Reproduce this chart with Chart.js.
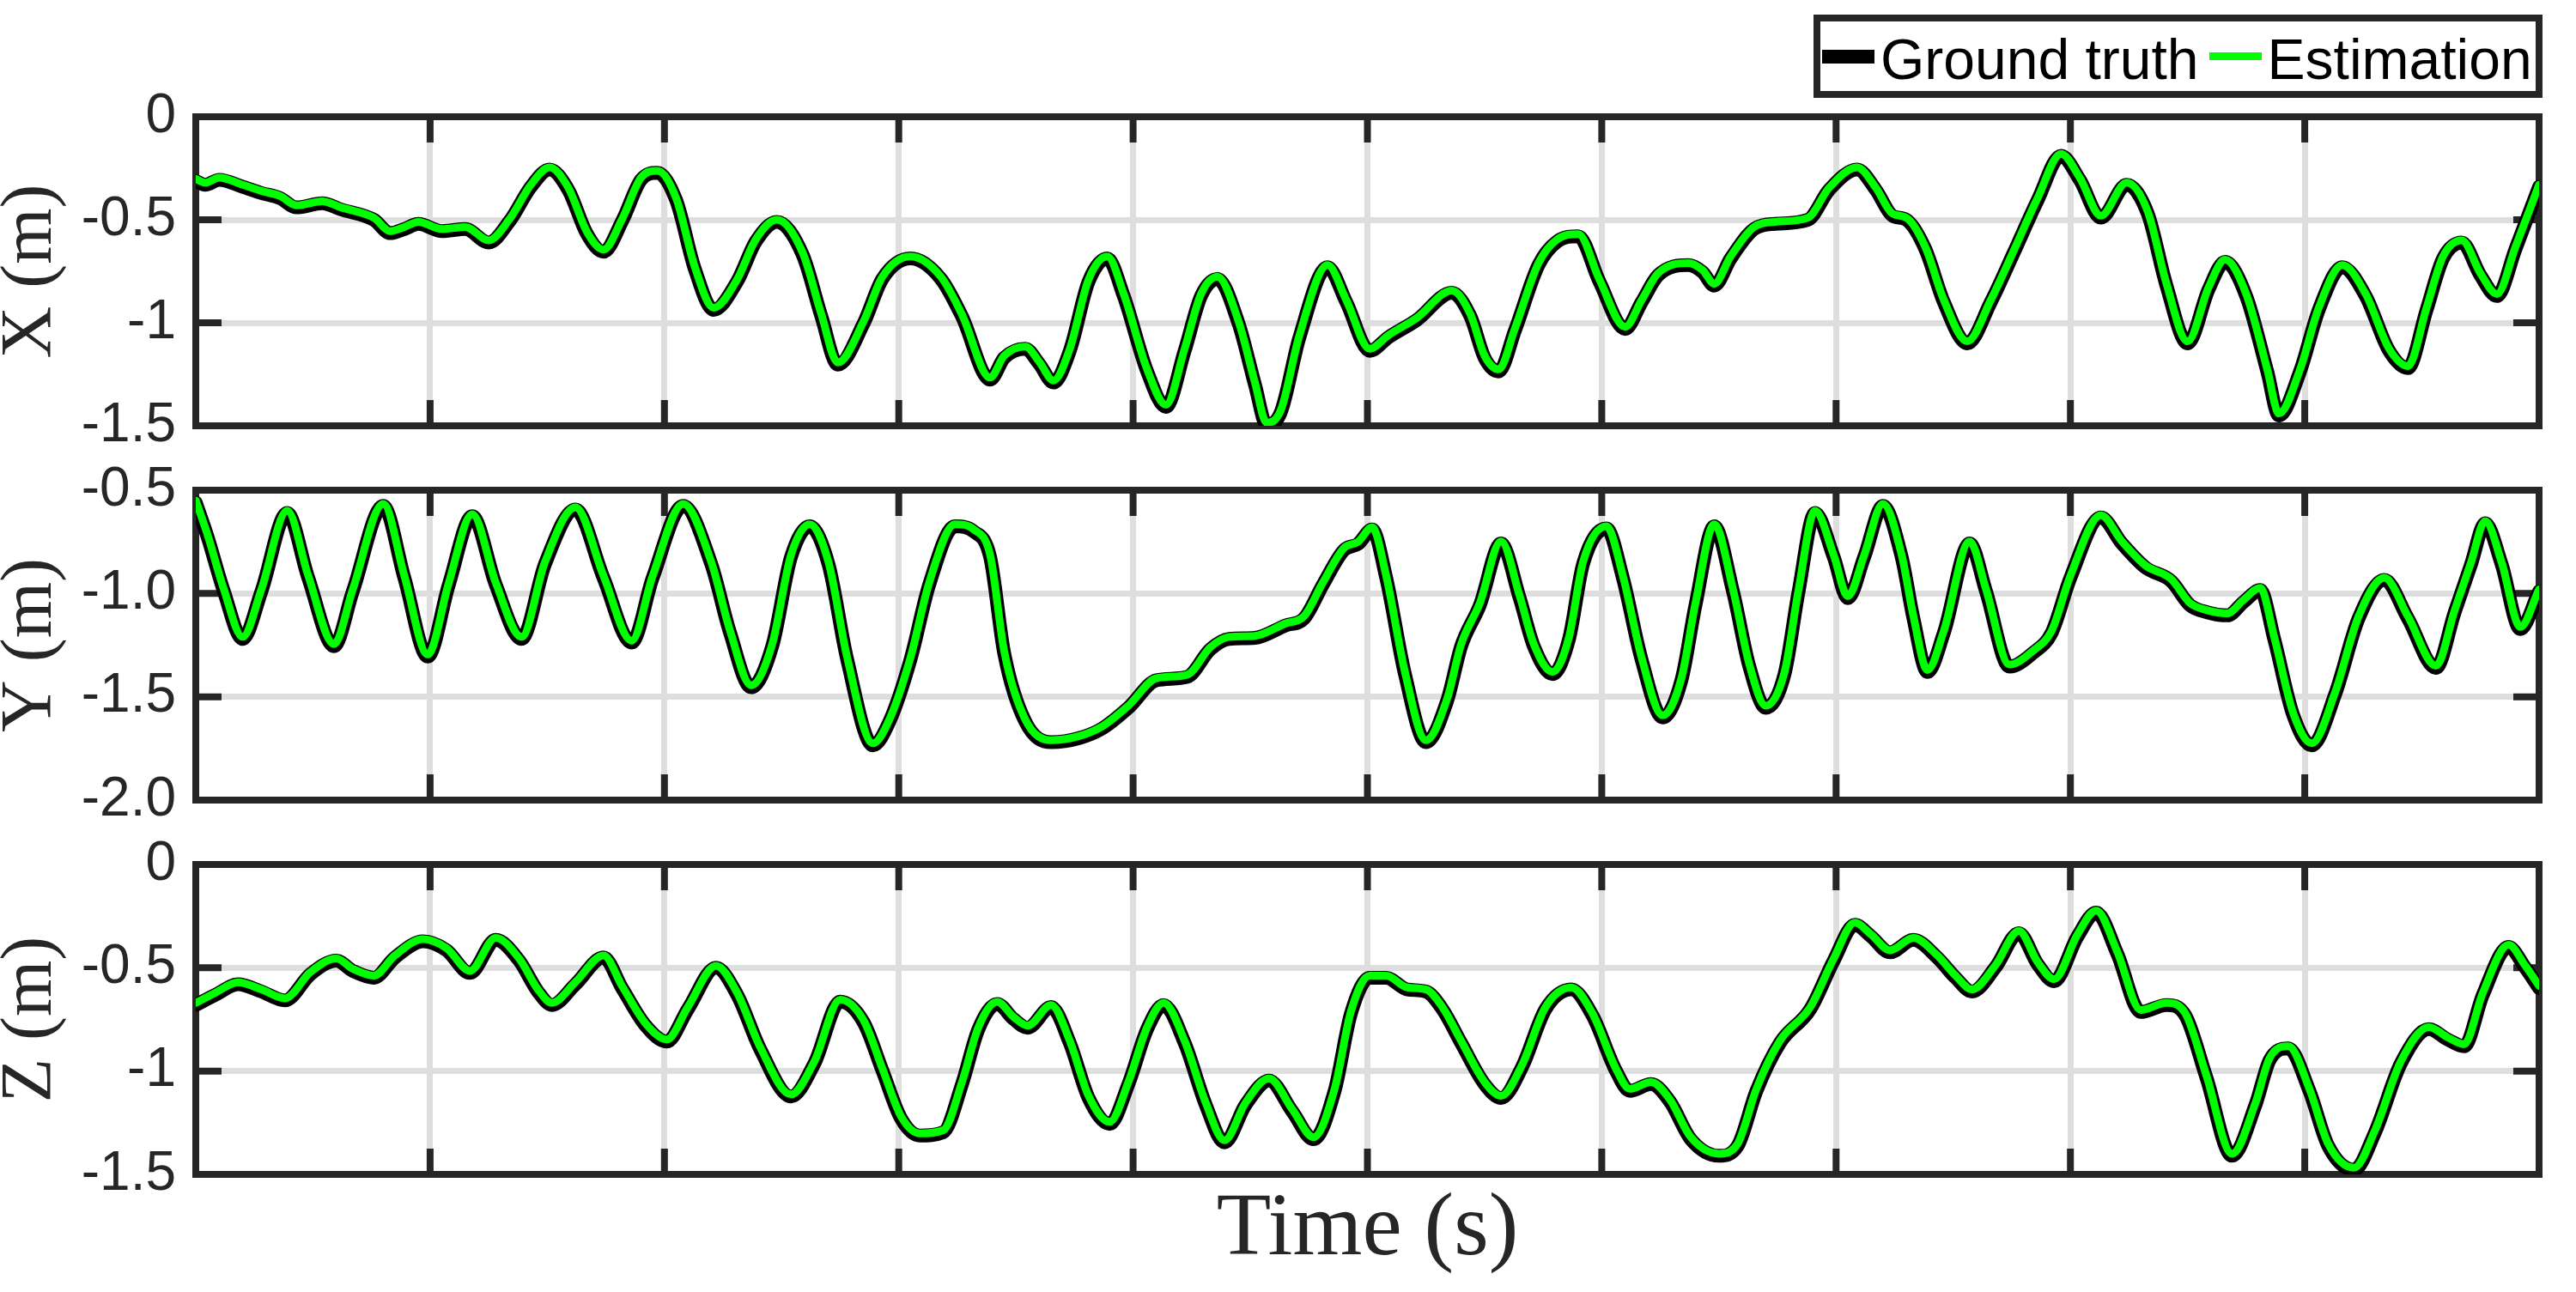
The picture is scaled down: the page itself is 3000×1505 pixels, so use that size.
<!DOCTYPE html>
<html>
<head>
<meta charset="utf-8">
<title>Ground truth vs estimation</title>
<script src="https://cdn.jsdelivr.net/npm/chart.js@4.4.1/dist/chart.umd.min.js"></script>
<style>
  html, body { margin: 0; padding: 0; background: #fff; }
  body { width: 3000px; height: 1505px; position: relative; overflow: hidden; }
  canvas { position: absolute; left: 0; }
  #legend {
    position: absolute; left: 2112px; top: 17px; width: 849px; height: 97px;
    box-sizing: border-box; border: 8px solid #262626; background: #fff;
    display: flex; align-items: center; z-index: 2;
    font-family: 'Liberation Sans', Arial, sans-serif; font-size: 66px; color: #000;
  }
  #legend .item { display: flex; align-items: center; margin-left: 12px; }
  #legend .item:first-child { margin-left: 2px; }
  #legend .swatch { display: inline-block; width: 61px; margin-right: 7px; }
  #legend .text { position: relative; top: 3px; white-space: nowrap; }
</style>
</head>
<body>
<div id="legend"></div>
<canvas id="chartX" width="3000" height="540" style="top:0px;width:3000px;height:540px"></canvas>
<canvas id="chartY" width="3000" height="435" style="top:540px;width:3000px;height:435px"></canvas>
<canvas id="chartZ" width="3000" height="530" style="top:975px;width:3000px;height:530px"></canvas>
<script>
// legend labels
const seriesLabels = ['Ground truth', 'Estimation'];

// shared time axis (grid every 10 s)
const timeTicks = [0, 10, 20, 30, 40, 50, 60, 70, 80, 90, 100];

// tick values / labels for each panel
const tickValuesX = [0, -0.5, -1, -1.5];
const tickLabelsX = ['0', '-0.5', '-1', '-1.5'];
const tickValuesY = [-0.5, -1, -1.5, -2];
const tickLabelsY = ['-0.5', '-1.0', '-1.5', '-2.0'];
const tickValuesZ = [0, -0.5, -1, -1.5];
const tickLabelsZ = ['0', '-0.5', '-1', '-1.5'];

// X (m)
const timeX = [0, 0.4, 1.0, 2.0, 2.8, 3.6, 4.3, 5.4, 6.2, 7.6,
  8.3, 8.9, 9.5, 10.5, 11.5, 12.5, 13.4, 14.3, 15.1, 15.9,
  16.7, 17.4, 18.2, 19.0, 19.7, 20.5, 21.3, 22.1, 23.1, 23.9,
  24.8, 25.9, 26.7, 27.4, 28.5, 29.3, 30.5, 31.8, 32.7, 33.9,
  34.5, 35.4, 36.0, 36.6, 37.3, 38.1, 38.9, 39.6, 40.6, 41.4,
  42.2, 42.9, 43.6, 44.5, 45.2, 45.7, 46.3, 47.1, 48.3, 49.1,
  50.1, 50.9, 52.1, 53.6, 54.4, 55.0, 55.6, 56.3, 57.3, 58.1,
  59.0, 59.9, 61.0, 61.7, 62.4, 63.7, 64.3, 64.8, 65.5, 66.5,
  67.4, 68.8, 69.7, 70.9, 71.7, 72.4, 73.0, 73.8, 74.6, 75.6,
  76.6, 77.6, 78.6, 79.6, 80.4, 81.3, 82.4, 83.3, 84.1, 85.0,
  85.9, 86.6, 87.5, 88.4, 88.9, 89.8, 90.6, 91.6, 92.6, 93.6,
  94.4, 95.2, 95.9, 96.7, 97.5, 98.2, 99.0, 100];
const groundTruthX = [-0.312, -0.33, -0.306, -0.34, -0.37, -0.395, -0.44, -0.42, -0.45, -0.50,
  -0.565, -0.545, -0.52, -0.555, -0.545, -0.61, -0.505, -0.34, -0.256, -0.355,
  -0.57, -0.655, -0.505, -0.306, -0.272, -0.405, -0.74, -0.937, -0.80, -0.605,
  -0.51, -0.67, -0.97, -1.203, -1.003, -0.787, -0.688, -0.787, -0.97, -1.276,
  -1.17, -1.126, -1.20, -1.29, -1.136, -0.80, -0.688, -0.87, -1.236, -1.408,
  -1.136, -0.87, -0.787, -1.003, -1.30, -1.495, -1.435, -1.07, -0.73, -0.90,
  -1.136, -1.07, -0.987, -0.854, -0.97, -1.17, -1.236, -1.036, -0.72, -0.605,
  -0.58, -0.80, -1.03, -0.90, -0.77, -0.72, -0.754, -0.82, -0.688, -0.545,
  -0.52, -0.50, -0.355, -0.256, -0.355, -0.48, -0.50, -0.64, -0.90, -1.10,
  -0.90, -0.655, -0.405, -0.19, -0.306, -0.49, -0.33, -0.47, -0.82, -1.10,
  -0.837, -0.704, -0.87, -1.236, -1.45, -1.236, -0.937, -0.73, -0.87, -1.136,
  -1.22, -0.937, -0.688, -0.61, -0.77, -0.87, -0.64, -0.34];
const estimationX = [-0.302, -0.32, -0.296, -0.33, -0.36, -0.385, -0.43, -0.41, -0.44, -0.49,
  -0.555, -0.535, -0.51, -0.545, -0.535, -0.60, -0.495, -0.33, -0.246, -0.345,
  -0.56, -0.645, -0.495, -0.296, -0.262, -0.395, -0.73, -0.927, -0.79, -0.595,
  -0.50, -0.66, -0.96, -1.193, -0.993, -0.777, -0.678, -0.777, -0.96, -1.266,
  -1.16, -1.116, -1.19, -1.28, -1.126, -0.79, -0.678, -0.86, -1.226, -1.398,
  -1.126, -0.86, -0.777, -0.993, -1.29, -1.485, -1.425, -1.06, -0.72, -0.89,
  -1.126, -1.06, -0.977, -0.844, -0.96, -1.16, -1.226, -1.026, -0.71, -0.595,
  -0.57, -0.79, -1.02, -0.89, -0.76, -0.71, -0.744, -0.81, -0.678, -0.535,
  -0.51, -0.49, -0.345, -0.246, -0.345, -0.47, -0.49, -0.63, -0.89, -1.09,
  -0.89, -0.645, -0.395, -0.18, -0.296, -0.48, -0.32, -0.46, -0.81, -1.09,
  -0.827, -0.694, -0.86, -1.226, -1.44, -1.226, -0.927, -0.72, -0.86, -1.126,
  -1.21, -0.927, -0.678, -0.60, -0.76, -0.86, -0.63, -0.33];

// Y (m)
const timeY = [0, 0.5, 1.2, 2.0, 2.8, 3.9, 4.8, 5.9, 6.7, 8.0,
  8.9, 9.9, 10.8, 11.8, 12.8, 13.9, 14.9, 16.2, 17.4, 18.6,
  19.5, 20.8, 22.0, 22.8, 23.7, 24.6, 25.4, 26.2, 27.0, 27.8,
  28.9, 29.6, 30.5, 31.3, 32.4, 33.2, 33.9, 34.5, 35.4, 36.5,
  37.7, 38.7, 39.8, 41.0, 42.3, 43.3, 44.1, 45.2, 46.5, 47.3,
  48.1, 49.0, 49.6, 50.2, 50.8, 51.6, 52.5, 53.4, 54.0, 54.8,
  55.7, 56.5, 57.1, 57.9, 58.6, 59.2, 60.2, 60.9, 61.7, 62.6,
  63.4, 64.0, 64.8, 65.6, 66.3, 67.0, 67.8, 68.4, 69.1, 69.9,
  70.5, 71.2, 72.0, 72.8, 73.3, 73.9, 74.6, 75.7, 76.4, 77.4,
  78.4, 79.2, 80.0, 81.3, 82.2, 83.2, 84.3, 85.1, 85.8, 86.7,
  87.4, 88.1, 88.7, 89.5, 90.3, 91.3, 92.3, 93.4, 94.4, 95.6,
  96.4, 97.1, 97.7, 98.4, 99.2, 100];
const groundTruthY = [-0.56, -0.725, -0.99, -1.22, -0.99, -0.61, -0.924, -1.255, -0.99, -0.576,
  -0.924, -1.305, -0.957, -0.626, -0.957, -1.22, -0.858, -0.593, -0.924, -1.238,
  -0.924, -0.576, -0.858, -1.19, -1.454, -1.255, -0.824, -0.675, -0.858, -1.32,
  -1.735, -1.62, -1.32, -0.957, -0.675, -0.70, -0.824, -1.29, -1.62, -1.72,
  -1.70, -1.652, -1.553, -1.42, -1.404, -1.27, -1.22, -1.215, -1.155, -1.12,
  -0.957, -0.79, -0.76, -0.69, -0.924, -1.39, -1.72, -1.52, -1.255, -1.056,
  -0.758, -1.023, -1.255, -1.39, -1.222, -0.858, -0.685, -0.924, -1.32, -1.60,
  -1.42, -1.056, -0.675, -0.99, -1.354, -1.553, -1.39, -0.99, -0.61, -0.824,
  -1.023, -0.824, -0.576, -0.824, -1.12, -1.38, -1.19, -0.758, -0.99, -1.354,
  -1.288, -1.19, -0.924, -0.632, -0.758, -0.874, -0.94, -1.056, -1.09, -1.106,
  -1.04, -0.983, -1.222, -1.586, -1.735, -1.487, -1.12, -0.934, -1.12, -1.36,
  -1.09, -0.858, -0.66, -0.858, -1.172, -0.99];
const estimationY = [-0.55, -0.715, -0.98, -1.21, -0.98, -0.60, -0.914, -1.245, -0.98, -0.566,
  -0.914, -1.295, -0.947, -0.616, -0.947, -1.21, -0.848, -0.583, -0.914, -1.228,
  -0.914, -0.566, -0.848, -1.18, -1.444, -1.245, -0.814, -0.665, -0.848, -1.31,
  -1.725, -1.61, -1.31, -0.947, -0.665, -0.69, -0.814, -1.28, -1.61, -1.71,
  -1.69, -1.642, -1.543, -1.41, -1.394, -1.26, -1.21, -1.205, -1.145, -1.11,
  -0.947, -0.78, -0.75, -0.68, -0.914, -1.38, -1.71, -1.51, -1.245, -1.046,
  -0.748, -1.013, -1.245, -1.38, -1.212, -0.848, -0.675, -0.914, -1.31, -1.59,
  -1.41, -1.046, -0.665, -0.98, -1.344, -1.543, -1.38, -0.98, -0.60, -0.814,
  -1.013, -0.814, -0.566, -0.814, -1.11, -1.37, -1.18, -0.748, -0.98, -1.344,
  -1.278, -1.18, -0.914, -0.622, -0.748, -0.864, -0.93, -1.046, -1.08, -1.096,
  -1.03, -0.973, -1.212, -1.576, -1.725, -1.477, -1.11, -0.924, -1.11, -1.35,
  -1.08, -0.848, -0.65, -0.848, -1.162, -0.98];

// Z (m)
const timeZ = [0, 0.85, 1.8, 2.8, 3.8, 4.9, 6.0, 6.7, 7.6, 8.5,
  9.7, 10.7, 11.7, 12.8, 13.8, 14.6, 15.2, 16.2, 17.4, 18.2,
  19.2, 20.1, 21.0, 22.2, 23.1, 24.1, 25.4, 26.4, 27.5, 28.5,
  29.3, 30.1, 30.9, 31.9, 32.7, 33.4, 34.2, 34.9, 35.5, 36.5,
  37.3, 38.1, 39.0, 39.8, 40.6, 41.3, 42.2, 43.1, 43.9, 44.8,
  45.8, 46.8, 47.7, 48.6, 49.3, 50.1, 50.8, 51.7, 52.5, 53.2,
  54.0, 55.0, 55.7, 56.6, 57.6, 58.7, 59.6, 60.6, 61.2, 62.1,
  62.9, 63.8, 65.0, 65.8, 66.6, 67.6, 68.9, 69.9, 70.8, 71.5,
  72.3, 73.3, 74.3, 75.1, 75.8, 76.8, 77.8, 78.6, 79.3, 80.3,
  81.1, 82.0, 83.0, 84.1, 84.9, 85.8, 86.9, 87.9, 88.5, 89.3,
  90.2, 91.0, 92.1, 93.0, 94.1, 95.3, 96.1, 96.8, 97.6, 98.7,
  99.4, 100];
const groundTruthZ = [-0.68, -0.63, -0.58, -0.615, -0.658, -0.53, -0.465, -0.515, -0.548, -0.45,
  -0.372, -0.415, -0.525, -0.365, -0.465, -0.615, -0.68, -0.58, -0.45, -0.60,
  -0.78, -0.857, -0.70, -0.50, -0.63, -0.897, -1.123, -0.963, -0.664, -0.764,
  -0.997, -1.23, -1.312, -1.296, -1.063, -0.797, -0.675, -0.748, -0.79, -0.69,
  -0.864, -1.13, -1.256, -1.063, -0.797, -0.68, -0.864, -1.163, -1.345, -1.163,
  -1.046, -1.196, -1.33, -1.096, -0.72, -0.548, -0.548, -0.605, -0.615, -0.70,
  -0.864, -1.063, -1.13, -0.98, -0.70, -0.605, -0.73, -0.997, -1.096, -1.063,
  -1.146, -1.33, -1.41, -1.362, -1.096, -0.864, -0.70, -0.465, -0.292, -0.349,
  -0.425, -0.365, -0.448, -0.548, -0.615, -0.498, -0.332, -0.482, -0.565, -0.349,
  -0.233, -0.432, -0.714, -0.68, -0.73, -1.03, -1.41, -1.163, -0.947, -0.89,
  -1.096, -1.362, -1.478, -1.296, -0.963, -0.797, -0.847, -0.88, -0.631, -0.399,
  -0.498, -0.598];
const estimationZ = [-0.67, -0.62, -0.57, -0.605, -0.648, -0.52, -0.455, -0.505, -0.538, -0.44,
  -0.362, -0.405, -0.515, -0.355, -0.455, -0.605, -0.67, -0.57, -0.44, -0.59,
  -0.77, -0.847, -0.69, -0.49, -0.62, -0.887, -1.113, -0.953, -0.654, -0.754,
  -0.987, -1.22, -1.302, -1.286, -1.053, -0.787, -0.665, -0.738, -0.78, -0.68,
  -0.854, -1.12, -1.246, -1.053, -0.787, -0.67, -0.854, -1.153, -1.335, -1.153,
  -1.036, -1.186, -1.32, -1.086, -0.71, -0.538, -0.538, -0.595, -0.605, -0.69,
  -0.854, -1.053, -1.12, -0.97, -0.69, -0.595, -0.72, -0.987, -1.086, -1.053,
  -1.136, -1.32, -1.40, -1.352, -1.086, -0.854, -0.69, -0.455, -0.282, -0.339,
  -0.415, -0.355, -0.438, -0.538, -0.605, -0.488, -0.322, -0.472, -0.555, -0.339,
  -0.223, -0.422, -0.704, -0.67, -0.72, -1.02, -1.40, -1.153, -0.937, -0.88,
  -1.086, -1.352, -1.468, -1.286, -0.953, -0.787, -0.837, -0.87, -0.621, -0.389,
  -0.488, -0.588];

const axisColor = '#262626';
const gridColor = '#dedede';
const sansFont = "'Liberation Sans', Arial, sans-serif";
const serifFont = "'Liberation Serif', 'Times New Roman', serif";

Chart.defaults.font.family = sansFont;
Chart.defaults.color = axisColor;

// box round the plot area + inward tick marks (drawn under the lines)
const axesBox = {
  id: 'axesBox',
  beforeDatasetsDraw(chart) {
    const {ctx, chartArea: a, scales} = chart;
    ctx.save();
    ctx.strokeStyle = axisColor;
    ctx.lineWidth = 8;
    ctx.lineCap = 'butt';
    ctx.beginPath();
    scales.x.ticks.forEach(t => {
      const px = scales.x.getPixelForValue(t.value);
      ctx.moveTo(px, a.top); ctx.lineTo(px, a.top + 30);
      ctx.moveTo(px, a.bottom); ctx.lineTo(px, a.bottom - 30);
    });
    scales.y.ticks.forEach(t => {
      const py = scales.y.getPixelForValue(t.value);
      ctx.moveTo(a.left, py); ctx.lineTo(a.left + 30, py);
      ctx.moveTo(a.right, py); ctx.lineTo(a.right - 30, py);
    });
    ctx.stroke();
    ctx.lineJoin = 'miter';
    ctx.strokeRect(a.left, a.top, a.right - a.left, a.bottom - a.top);
    ctx.restore();
  }
};

function toPoints(times, values) {
  return times.map((t, i) => ({x: t, y: values[i]}));
}

function makePanel(id, cfg) {
  const ctx = document.getElementById(id).getContext('2d');
  return new Chart(ctx, {
    type: 'line',
    data: {
      datasets: [
        {
          label: seriesLabels[0],
          data: toPoints(cfg.times, cfg.truth),
          borderColor: '#000000',
          borderWidth: 16,
          order: 2
        },
        {
          label: seriesLabels[1],
          data: toPoints(cfg.times, cfg.est),
          borderColor: '#00ff00',
          borderWidth: 9,
          order: 1
        }
      ]
    },
    options: {
      responsive: false,
      devicePixelRatio: 1,
      animation: false,
      events: [],
      layout: {padding: {top: cfg.padTop, bottom: cfg.padBottom, left: 0, right: 43}},
      elements: {
        point: {radius: 0, hoverRadius: 0},
        line: {cubicInterpolationMode: 'monotone', borderCapStyle: 'round', borderJoinStyle: 'round', fill: false}
      },
      datasets: {line: {clip: 0}},
      scales: {
        x: {
          type: 'linear',
          min: 0,
          max: 100,
          afterBuildTicks: s => { s.ticks = timeTicks.map(v => ({value: v})); },
          ticks: {display: false},
          grid: {color: gridColor, lineWidth: 7, drawTicks: false},
          border: {display: false},
          title: cfg.xTitle ? {
            display: true,
            text: cfg.xTitle,
            font: {family: serifFont, size: 104},
            color: axisColor,
            padding: {top: 0, bottom: 9}
          } : {display: false},
          afterFit: s => { s.height = cfg.xHeight; s.paddingLeft = 0; s.paddingRight = 0; }
        },
        y: {
          type: 'linear',
          min: cfg.min,
          max: cfg.max,
          afterBuildTicks: s => { s.ticks = cfg.tickValues.map(v => ({value: v})); },
          ticks: {
            autoSkip: false,
            padding: 23,
            color: axisColor,
            font: {family: sansFont, size: 64},
            callback: v => cfg.tickLabels[cfg.tickValues.indexOf(v)]
          },
          grid: {color: gridColor, lineWidth: 7, drawTicks: false},
          border: {display: false},
          title: {
            display: true,
            text: cfg.yTitle,
            font: {family: serifFont, size: 84, lineHeight: 0.714},
            color: axisColor,
            padding: {top: 7, bottom: 0}
          },
          afterFit: s => { s.width = 228; s.paddingTop = 0; s.paddingBottom = 0; }
        }
      },
      plugins: {
        legend: {display: false},
        tooltip: {enabled: false}
      }
    },
    plugins: [axesBox]
  });
}

const chartX = makePanel('chartX', {
  times: timeX, truth: groundTruthX, est: estimationX,
  min: -1.5, max: 0, tickValues: tickValuesX, tickLabels: tickLabelsX,
  yTitle: 'X (m)', padTop: 136, padBottom: 44, xHeight: 0
});
const chartY = makePanel('chartY', {
  times: timeY, truth: groundTruthY, est: estimationY,
  min: -2, max: -0.5, tickValues: tickValuesY, tickLabels: tickLabelsY,
  yTitle: 'Y (m)', padTop: 31, padBottom: 43, xHeight: 0
});
const chartZ = makePanel('chartZ', {
  times: timeZ, truth: groundTruthZ, est: estimationZ,
  min: -1.5, max: 0, tickValues: tickValuesZ, tickLabels: tickLabelsZ,
  yTitle: 'Z (m)', xTitle: 'Time (s)', padTop: 32, padBottom: 0, xHeight: 137
});

// html legend built from the first panel's datasets
function buildLegend(chart) {
  const box = document.getElementById('legend');
  chart.data.datasets.forEach(ds => {
    const item = document.createElement('div');
    item.className = 'item';
    const swatch = document.createElement('span');
    swatch.className = 'swatch';
    swatch.style.background = ds.borderColor;
    swatch.style.height = ds.borderWidth + 'px';
    const text = document.createElement('span');
    text.className = 'text';
    text.textContent = ds.label;
    item.append(swatch, text);
    box.append(item);
  });
}
buildLegend(chartX);
</script>
</body>
</html>
